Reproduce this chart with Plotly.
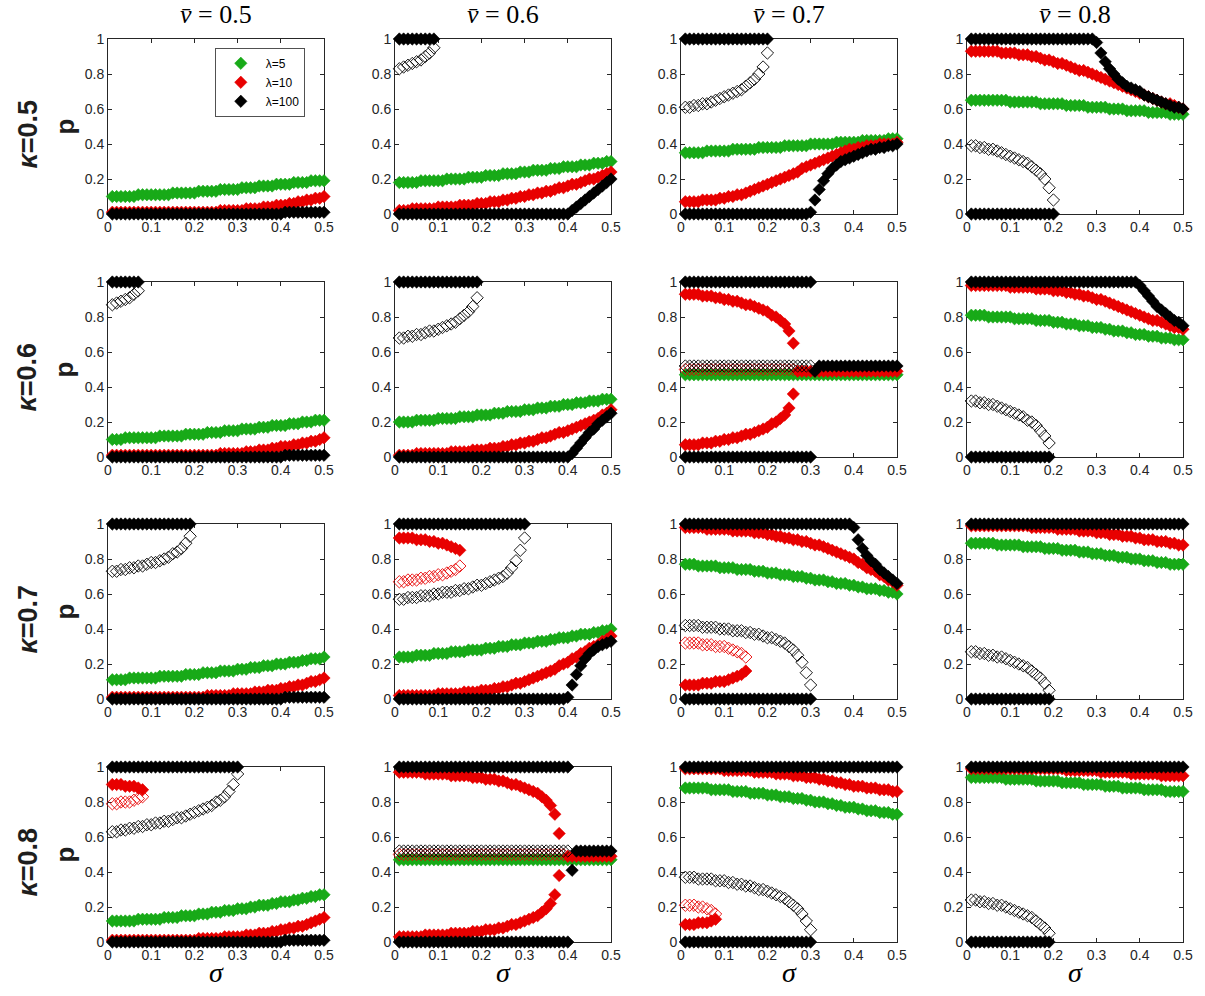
import plotly.graph_objects as go

# ---------------- data ----------------
SIGMA = [0.01, 0.02, 0.03, 0.04, 0.05, 0.06, 0.07, 0.08, 0.09, 0.10,
         0.11, 0.12, 0.13, 0.14, 0.15, 0.16, 0.17, 0.18, 0.19, 0.20,
         0.21, 0.22, 0.23, 0.24, 0.25, 0.26, 0.27, 0.28, 0.29, 0.30,
         0.31, 0.32, 0.33, 0.34, 0.35, 0.36, 0.37, 0.38, 0.39, 0.40,
         0.41, 0.42, 0.43, 0.44, 0.45, 0.46, 0.47, 0.48, 0.49, 0.50]

KAPPA_LABELS = ["0.5", "0.6", "0.7", "0.8"]
VBAR_LABELS = ["0.5", "0.6", "0.7", "0.8"]
X_TICKS = [0, 0.1, 0.2, 0.3, 0.4, 0.5]
X_TICK_TEXT = ["0", "0.1", "0.2", "0.3", "0.4", "0.5"]
Y_TICKS = [0, 0.2, 0.4, 0.6, 0.8, 1]
Y_TICK_TEXT = ["0", "0.2", "0.4", "0.6", "0.8", "1"]
LEGEND_NAMES = ["λ=5", "λ=10", "λ=100"]

# ---- kappa = 0.5 ----
k5v5_green = [0.10, 0.10, 0.10, 0.10, 0.10, 0.10, 0.11, 0.11, 0.11, 0.11, 0.11, 0.11, 0.11, 0.11, 0.12, 0.12, 0.12, 0.12, 0.12, 0.12,
              0.13, 0.13, 0.13, 0.13, 0.13, 0.14, 0.14, 0.14, 0.14, 0.14, 0.15, 0.15, 0.15, 0.15, 0.16, 0.16, 0.16, 0.16, 0.17, 0.17,
              0.17, 0.17, 0.18, 0.18, 0.18, 0.18, 0.19, 0.19, 0.19, 0.19]
k5v5_red = [0.01, 0.01, 0.01, 0.01, 0.01, 0.01, 0.01, 0.01, 0.01, 0.01, 0.01, 0.01, 0.01, 0.01, 0.01, 0.01, 0.01, 0.01, 0.01, 0.01,
            0.01, 0.01, 0.01, 0.01, 0.01, 0.02, 0.02, 0.02, 0.02, 0.02, 0.02, 0.03, 0.03, 0.03, 0.03, 0.04, 0.04, 0.04, 0.05, 0.05,
            0.05, 0.06, 0.06, 0.07, 0.07, 0.08, 0.08, 0.09, 0.09, 0.10]
k5v5_black = [0, 0, 0, 0, 0, 0, 0, 0, 0, 0, 0, 0, 0, 0, 0, 0, 0, 0, 0, 0, 0, 0, 0, 0, 0, 0, 0, 0, 0, 0, 0, 0, 0, 0, 0, 0, 0, 0, 0, 0,
              0.01, 0.01, 0.01, 0.01, 0.01, 0.01, 0.01, 0.01, 0.01, 0.01]

k5v6_black_hi = [1, 1, 1, 1, 1, 1, 1, 1, 1]
k5v6_black_open = [0.83, 0.84, 0.85, 0.86, 0.87, 0.88, 0.90, 0.92, 0.95]
k5v6_green = [0.18, 0.18, 0.18, 0.18, 0.18, 0.19, 0.19, 0.19, 0.19, 0.19, 0.19, 0.20, 0.20, 0.20, 0.20, 0.20, 0.21, 0.21, 0.21, 0.21,
              0.22, 0.22, 0.22, 0.22, 0.23, 0.23, 0.23, 0.23, 0.24, 0.24, 0.24, 0.25, 0.25, 0.25, 0.25, 0.26, 0.26, 0.26, 0.27, 0.27,
              0.27, 0.27, 0.28, 0.28, 0.28, 0.29, 0.29, 0.29, 0.30, 0.30]
k5v6_red = [0.02, 0.02, 0.02, 0.03, 0.03, 0.03, 0.03, 0.03, 0.03, 0.04, 0.04, 0.04, 0.04, 0.04, 0.05, 0.05, 0.05, 0.05, 0.06, 0.06,
            0.06, 0.07, 0.07, 0.07, 0.08, 0.08, 0.09, 0.09, 0.10, 0.10, 0.11, 0.11, 0.12, 0.12, 0.13, 0.13, 0.14, 0.15, 0.15, 0.16,
            0.17, 0.17, 0.18, 0.19, 0.20, 0.20, 0.21, 0.22, 0.23, 0.24]
k5v6_black_lo = [0, 0, 0, 0, 0, 0, 0, 0, 0, 0, 0, 0, 0, 0, 0, 0, 0, 0, 0, 0, 0, 0, 0, 0, 0, 0, 0, 0, 0, 0, 0, 0, 0, 0, 0, 0, 0, 0, 0, 0,
                 0.02, 0.04, 0.06, 0.08, 0.10, 0.12, 0.14, 0.16, 0.18, 0.20]

k5v7_black_hi = [1, 1, 1, 1, 1, 1, 1, 1, 1, 1, 1, 1, 1, 1, 1, 1, 1, 1, 1, 1]
k5v7_black_open = [0.61, 0.61, 0.62, 0.62, 0.63, 0.63, 0.64, 0.65, 0.66, 0.67, 0.68, 0.69, 0.70, 0.71, 0.73, 0.75, 0.77, 0.80, 0.84, 0.92]
k5v7_green = [0.35, 0.35, 0.35, 0.35, 0.35, 0.36, 0.36, 0.36, 0.36, 0.36, 0.36, 0.37, 0.37, 0.37, 0.37, 0.37, 0.37, 0.38, 0.38, 0.38,
              0.38, 0.38, 0.38, 0.39, 0.39, 0.39, 0.39, 0.39, 0.39, 0.40, 0.40, 0.40, 0.40, 0.40, 0.40, 0.41, 0.41, 0.41, 0.41, 0.41,
              0.41, 0.42, 0.42, 0.42, 0.42, 0.42, 0.42, 0.43, 0.43, 0.43]
k5v7_red = [0.07, 0.07, 0.07, 0.07, 0.08, 0.08, 0.08, 0.08, 0.09, 0.09, 0.10, 0.10, 0.11, 0.11, 0.12, 0.13, 0.14, 0.15, 0.16, 0.17,
            0.18, 0.19, 0.20, 0.21, 0.22, 0.23, 0.24, 0.26, 0.27, 0.28, 0.29, 0.30, 0.31, 0.32, 0.33, 0.34, 0.35, 0.36, 0.37, 0.37,
            0.38, 0.38, 0.39, 0.39, 0.39, 0.40, 0.40, 0.40, 0.40, 0.41]
k5v7_black_lo = [0, 0, 0, 0, 0, 0, 0, 0, 0, 0, 0, 0, 0, 0, 0, 0, 0, 0, 0, 0, 0, 0, 0, 0, 0, 0, 0, 0, 0, 0.01,
                 0.08, 0.14, 0.19, 0.23, 0.26, 0.28, 0.30, 0.31, 0.32, 0.33, 0.34, 0.35, 0.36, 0.37, 0.37, 0.38, 0.38, 0.39, 0.39, 0.40]

k5v8_black_hi = [1, 1, 1, 1, 1, 1, 1, 1, 1, 1, 1, 1, 1, 1, 1, 1, 1, 1, 1, 1, 1, 1, 1, 1, 1, 1, 1, 1, 1,
                 0.98, 0.92, 0.87, 0.83, 0.80, 0.77, 0.75, 0.73, 0.72, 0.71, 0.70, 0.68, 0.67, 0.66, 0.65, 0.64, 0.63, 0.62, 0.61, 0.61, 0.60]
k5v8_red = [0.93, 0.93, 0.93, 0.93, 0.93, 0.93, 0.93, 0.92, 0.92, 0.92, 0.92, 0.91, 0.91, 0.91, 0.90, 0.90, 0.89, 0.88, 0.88, 0.87,
            0.86, 0.86, 0.85, 0.84, 0.83, 0.82, 0.82, 0.81, 0.80, 0.79, 0.78, 0.77, 0.76, 0.75, 0.74, 0.73, 0.72, 0.71, 0.70, 0.69,
            0.68, 0.67, 0.66, 0.65, 0.64, 0.63, 0.63, 0.62, 0.61, 0.60]
k5v8_green = [0.65, 0.65, 0.65, 0.65, 0.65, 0.65, 0.65, 0.65, 0.65, 0.64, 0.64, 0.64, 0.64, 0.64, 0.64, 0.64, 0.63, 0.63, 0.63, 0.63,
              0.63, 0.63, 0.62, 0.62, 0.62, 0.62, 0.62, 0.61, 0.61, 0.61, 0.61, 0.61, 0.60, 0.60, 0.60, 0.60, 0.59, 0.59, 0.59, 0.59,
              0.59, 0.58, 0.58, 0.58, 0.58, 0.58, 0.57, 0.57, 0.57, 0.57]
k5v8_black_open = [0.39, 0.39, 0.38, 0.38, 0.37, 0.37, 0.36, 0.35, 0.34, 0.33, 0.32, 0.31, 0.30, 0.29, 0.27, 0.25, 0.23, 0.20, 0.15, 0.08]
k5v8_black_lo = [0, 0, 0, 0, 0, 0, 0, 0, 0, 0, 0, 0, 0, 0, 0, 0, 0, 0, 0, 0]

# ---- kappa = 0.6 ----
k6v5_black_hi = [1, 1, 1, 1, 1, 1, 1]
k6v5_black_open = [0.87, 0.88, 0.89, 0.90, 0.91, 0.93, 0.95]
k6v5_green = [0.10, 0.10, 0.10, 0.11, 0.11, 0.11, 0.11, 0.11, 0.11, 0.11, 0.11, 0.12, 0.12, 0.12, 0.12, 0.12, 0.12, 0.13, 0.13, 0.13,
              0.13, 0.13, 0.14, 0.14, 0.14, 0.14, 0.15, 0.15, 0.15, 0.15, 0.16, 0.16, 0.16, 0.16, 0.17, 0.17, 0.17, 0.18, 0.18, 0.18,
              0.18, 0.19, 0.19, 0.19, 0.20, 0.20, 0.20, 0.21, 0.21, 0.21]
k6v5_red = [0.01, 0.01, 0.01, 0.01, 0.01, 0.01, 0.01, 0.01, 0.01, 0.01, 0.01, 0.01, 0.01, 0.01, 0.01, 0.01, 0.01, 0.01, 0.01, 0.01,
            0.01, 0.01, 0.01, 0.01, 0.01, 0.02, 0.02, 0.02, 0.02, 0.02, 0.02, 0.03, 0.03, 0.03, 0.04, 0.04, 0.04, 0.05, 0.05, 0.06,
            0.06, 0.06, 0.07, 0.07, 0.08, 0.08, 0.09, 0.09, 0.10, 0.11]
k6v5_black_lo = [0, 0, 0, 0, 0, 0, 0, 0, 0, 0, 0, 0, 0, 0, 0, 0, 0, 0, 0, 0, 0, 0, 0, 0, 0, 0, 0, 0, 0, 0, 0, 0, 0, 0, 0, 0, 0, 0, 0, 0,
                 0.01, 0.01, 0.01, 0.01, 0.01, 0.01, 0.01, 0.01, 0.01, 0.01]

k6v6_black_hi = [1, 1, 1, 1, 1, 1, 1, 1, 1, 1, 1, 1, 1, 1, 1, 1, 1, 1, 1]
k6v6_black_open = [0.68, 0.68, 0.69, 0.69, 0.70, 0.70, 0.71, 0.72, 0.72, 0.73, 0.74, 0.75, 0.76, 0.77, 0.79, 0.81, 0.83, 0.86, 0.91]
k6v6_green = [0.20, 0.20, 0.20, 0.20, 0.21, 0.21, 0.21, 0.21, 0.21, 0.22, 0.22, 0.22, 0.22, 0.22, 0.23, 0.23, 0.23, 0.23, 0.24, 0.24,
              0.24, 0.24, 0.25, 0.25, 0.25, 0.26, 0.26, 0.26, 0.26, 0.27, 0.27, 0.27, 0.28, 0.28, 0.28, 0.29, 0.29, 0.29, 0.30, 0.30,
              0.30, 0.31, 0.31, 0.31, 0.32, 0.32, 0.32, 0.33, 0.33, 0.33]
k6v6_red = [0.01, 0.01, 0.01, 0.01, 0.02, 0.02, 0.02, 0.02, 0.02, 0.02, 0.02, 0.02, 0.03, 0.03, 0.03, 0.03, 0.03, 0.04, 0.04, 0.04,
            0.04, 0.05, 0.05, 0.05, 0.06, 0.06, 0.07, 0.07, 0.08, 0.08, 0.09, 0.09, 0.10, 0.11, 0.11, 0.12, 0.13, 0.14, 0.14, 0.15,
            0.16, 0.17, 0.18, 0.19, 0.20, 0.21, 0.22, 0.24, 0.25, 0.27]
k6v6_black_lo = [0, 0, 0, 0, 0, 0, 0, 0, 0, 0, 0, 0, 0, 0, 0, 0, 0, 0, 0, 0, 0, 0, 0, 0, 0, 0, 0, 0, 0, 0, 0, 0, 0, 0, 0, 0, 0, 0, 0, 0,
                 0.02, 0.05, 0.08, 0.11, 0.14, 0.16, 0.19, 0.21, 0.23, 0.25]

k6v7_black_hi = [1, 1, 1, 1, 1, 1, 1, 1, 1, 1, 1, 1, 1, 1, 1, 1, 1, 1, 1, 1, 1, 1, 1, 1, 1, 1, 1, 1, 1, 1]
k6v7_red_hi = [0.93, 0.93, 0.93, 0.93, 0.92, 0.92, 0.92, 0.91, 0.91, 0.90, 0.90, 0.89, 0.89, 0.88, 0.87, 0.87, 0.86, 0.85, 0.84, 0.83,
               0.81, 0.80, 0.78, 0.76, 0.72, 0.65]
k6v7_red_lo = [0.07, 0.07, 0.07, 0.07, 0.08, 0.08, 0.08, 0.09, 0.09, 0.10, 0.10, 0.11, 0.11, 0.12, 0.13, 0.13, 0.14, 0.15, 0.16, 0.17,
               0.19, 0.20, 0.22, 0.24, 0.28, 0.36]
k6v7_black_open = [0.52, 0.52, 0.52, 0.52, 0.52, 0.52, 0.52, 0.52, 0.52, 0.52, 0.52, 0.52, 0.52, 0.52, 0.52, 0.52, 0.52, 0.52, 0.52, 0.52,
                   0.52, 0.52, 0.52, 0.52, 0.52, 0.52, 0.52, 0.52, 0.52, 0.52]
k6v7_red_open = [0.50, 0.50, 0.50, 0.50, 0.50, 0.50, 0.50, 0.50, 0.50, 0.50, 0.50, 0.50, 0.50, 0.50, 0.50, 0.50, 0.50, 0.50, 0.50, 0.50,
                 0.50, 0.50, 0.50, 0.50, 0.50, 0.50]
k6v7_red_mid = [0.49, 0.49, 0.49, 0.49, 0.49, 0.49, 0.49, 0.49, 0.49, 0.49, 0.49, 0.49, 0.49, 0.49, 0.49, 0.49, 0.49, 0.49, 0.49, 0.49,
                0.49, 0.49, 0.49, 0.49]
k6v7_green = [0.47, 0.47, 0.47, 0.47, 0.47, 0.47, 0.47, 0.47, 0.47, 0.47, 0.47, 0.47, 0.47, 0.47, 0.47, 0.47, 0.47, 0.47, 0.47, 0.47,
              0.47, 0.47, 0.47, 0.47, 0.47, 0.47, 0.47, 0.47, 0.47, 0.47, 0.47, 0.47, 0.47, 0.47, 0.47, 0.47, 0.47, 0.47, 0.47, 0.47,
              0.47, 0.47, 0.47, 0.47, 0.47, 0.47, 0.47, 0.47, 0.47, 0.47]
k6v7_black_lo = [0, 0, 0, 0, 0, 0, 0, 0, 0, 0, 0, 0, 0, 0, 0, 0, 0, 0, 0, 0, 0, 0, 0, 0, 0, 0, 0, 0, 0, 0]
k6v7_black_mid = [0.49, 0.52, 0.52, 0.52, 0.52, 0.52, 0.52, 0.52, 0.52, 0.52, 0.52, 0.52, 0.52, 0.52, 0.52, 0.52, 0.52, 0.52, 0.52, 0.52]

k6v8_black_hi = [1, 1, 1, 1, 1, 1, 1, 1, 1, 1, 1, 1, 1, 1, 1, 1, 1, 1, 1, 1, 1, 1, 1, 1, 1, 1, 1, 1, 1, 1, 1, 1, 1, 1, 1, 1, 1, 1, 1,
                 0.98, 0.95, 0.92, 0.89, 0.86, 0.84, 0.82, 0.80, 0.78, 0.77, 0.75]
k6v8_red = [0.98, 0.98, 0.98, 0.98, 0.98, 0.98, 0.98, 0.98, 0.98, 0.97, 0.97, 0.97, 0.97, 0.97, 0.97, 0.96, 0.96, 0.96, 0.96, 0.95,
            0.95, 0.95, 0.94, 0.94, 0.93, 0.93, 0.92, 0.92, 0.91, 0.90, 0.90, 0.89, 0.88, 0.87, 0.86, 0.85, 0.84, 0.83, 0.82, 0.81,
            0.80, 0.79, 0.78, 0.78, 0.77, 0.76, 0.75, 0.74, 0.74, 0.73]
k6v8_green = [0.81, 0.81, 0.81, 0.81, 0.80, 0.80, 0.80, 0.80, 0.80, 0.80, 0.79, 0.79, 0.79, 0.79, 0.79, 0.78, 0.78, 0.78, 0.78, 0.77,
              0.77, 0.77, 0.76, 0.76, 0.76, 0.75, 0.75, 0.75, 0.74, 0.74, 0.74, 0.73, 0.73, 0.72, 0.72, 0.72, 0.71, 0.71, 0.70, 0.70,
              0.70, 0.69, 0.69, 0.69, 0.68, 0.68, 0.68, 0.67, 0.67, 0.67]
k6v8_black_open = [0.32, 0.32, 0.31, 0.31, 0.30, 0.30, 0.29, 0.28, 0.27, 0.26, 0.25, 0.24, 0.23, 0.21, 0.20, 0.18, 0.15, 0.12, 0.08]
k6v8_black_lo = [0, 0, 0, 0, 0, 0, 0, 0, 0, 0, 0, 0, 0, 0, 0, 0, 0, 0, 0]

# ---- kappa = 0.7 ----
k7v5_black_hi = [1, 1, 1, 1, 1, 1, 1, 1, 1, 1, 1, 1, 1, 1, 1, 1, 1, 1, 1]
k7v5_black_open = [0.73, 0.73, 0.74, 0.74, 0.75, 0.75, 0.76, 0.76, 0.77, 0.78, 0.78, 0.79, 0.80, 0.81, 0.83, 0.84, 0.86, 0.89, 0.93]
k7v5_green = [0.11, 0.11, 0.11, 0.11, 0.12, 0.12, 0.12, 0.12, 0.12, 0.12, 0.12, 0.13, 0.13, 0.13, 0.13, 0.13, 0.13, 0.14, 0.14, 0.14,
              0.14, 0.15, 0.15, 0.15, 0.15, 0.16, 0.16, 0.16, 0.16, 0.17, 0.17, 0.17, 0.18, 0.18, 0.18, 0.19, 0.19, 0.19, 0.20, 0.20,
              0.20, 0.21, 0.21, 0.21, 0.22, 0.22, 0.23, 0.23, 0.23, 0.24]
k7v5_red = [0.01, 0.01, 0.01, 0.01, 0.01, 0.01, 0.01, 0.01, 0.01, 0.01, 0.01, 0.01, 0.01, 0.01, 0.01, 0.01, 0.01, 0.01, 0.01, 0.01,
            0.01, 0.01, 0.02, 0.02, 0.02, 0.02, 0.02, 0.02, 0.03, 0.03, 0.03, 0.03, 0.03, 0.04, 0.04, 0.04, 0.05, 0.05, 0.05, 0.06,
            0.06, 0.07, 0.07, 0.08, 0.08, 0.09, 0.10, 0.10, 0.11, 0.12]
k7v5_black_lo = [0, 0, 0, 0, 0, 0, 0, 0, 0, 0, 0, 0, 0, 0, 0, 0, 0, 0, 0, 0, 0, 0, 0, 0, 0, 0, 0, 0, 0, 0, 0, 0, 0, 0, 0, 0, 0, 0, 0, 0,
                 0.01, 0.01, 0.01, 0.01, 0.01, 0.01, 0.01, 0.01, 0.01, 0.01]

k7v6_black_hi = [1, 1, 1, 1, 1, 1, 1, 1, 1, 1, 1, 1, 1, 1, 1, 1, 1, 1, 1, 1, 1, 1, 1, 1, 1, 1, 1, 1, 1, 1]
k7v6_red_hi = [0.92, 0.92, 0.92, 0.92, 0.91, 0.91, 0.91, 0.90, 0.90, 0.89, 0.89, 0.88, 0.87, 0.86, 0.85]
k7v6_red_open = [0.67, 0.67, 0.68, 0.68, 0.68, 0.69, 0.69, 0.70, 0.70, 0.71, 0.71, 0.72, 0.73, 0.74, 0.76]
k7v6_black_open = [0.57, 0.57, 0.58, 0.58, 0.58, 0.59, 0.59, 0.59, 0.60, 0.60, 0.61, 0.61, 0.61, 0.62, 0.62, 0.63, 0.63, 0.64, 0.65, 0.65,
                   0.66, 0.67, 0.68, 0.69, 0.70, 0.72, 0.75, 0.79, 0.85, 0.92]
k7v6_green = [0.24, 0.24, 0.24, 0.24, 0.25, 0.25, 0.25, 0.25, 0.26, 0.26, 0.26, 0.26, 0.27, 0.27, 0.27, 0.27, 0.28, 0.28, 0.28, 0.28,
              0.29, 0.29, 0.29, 0.30, 0.30, 0.30, 0.31, 0.31, 0.31, 0.32, 0.32, 0.32, 0.33, 0.33, 0.33, 0.34, 0.34, 0.35, 0.35, 0.35,
              0.36, 0.36, 0.37, 0.37, 0.37, 0.38, 0.38, 0.39, 0.39, 0.40]
k7v6_red = [0.02, 0.02, 0.02, 0.02, 0.02, 0.02, 0.02, 0.02, 0.02, 0.03, 0.03, 0.03, 0.03, 0.03, 0.03, 0.04, 0.04, 0.04, 0.04, 0.05,
            0.05, 0.05, 0.06, 0.06, 0.07, 0.07, 0.08, 0.09, 0.09, 0.10, 0.11, 0.12, 0.13, 0.14, 0.15, 0.16, 0.17, 0.19, 0.20, 0.21,
            0.23, 0.24, 0.26, 0.27, 0.29, 0.30, 0.31, 0.33, 0.34, 0.36]
k7v6_black_lo = [0, 0, 0, 0, 0, 0, 0, 0, 0, 0, 0, 0, 0, 0, 0, 0, 0, 0, 0, 0, 0, 0, 0, 0, 0, 0, 0, 0, 0, 0, 0, 0, 0, 0, 0, 0, 0, 0, 0, 0.01,
                 0.08, 0.14, 0.19, 0.23, 0.26, 0.28, 0.30, 0.31, 0.32, 0.33]

k7v7_black_hi = [1, 1, 1, 1, 1, 1, 1, 1, 1, 1, 1, 1, 1, 1, 1, 1, 1, 1, 1, 1, 1, 1, 1, 1, 1, 1, 1, 1, 1, 1, 1, 1, 1, 1, 1, 1, 1, 1, 1,
                 0.98, 0.91, 0.86, 0.82, 0.79, 0.77, 0.74, 0.72, 0.70, 0.68, 0.66]
k7v7_red = [0.98, 0.98, 0.98, 0.98, 0.98, 0.97, 0.97, 0.97, 0.97, 0.97, 0.97, 0.96, 0.96, 0.96, 0.96, 0.96, 0.95, 0.95, 0.95, 0.94,
            0.94, 0.93, 0.93, 0.92, 0.92, 0.91, 0.91, 0.90, 0.90, 0.89, 0.88, 0.88, 0.87, 0.86, 0.85, 0.84, 0.83, 0.82, 0.81, 0.80,
            0.78, 0.77, 0.75, 0.74, 0.73, 0.71, 0.70, 0.68, 0.67, 0.65]
k7v7_green = [0.77, 0.77, 0.77, 0.76, 0.76, 0.76, 0.76, 0.76, 0.75, 0.75, 0.75, 0.75, 0.74, 0.74, 0.74, 0.74, 0.73, 0.73, 0.73, 0.72,
              0.72, 0.72, 0.71, 0.71, 0.71, 0.70, 0.70, 0.70, 0.69, 0.69, 0.68, 0.68, 0.68, 0.67, 0.67, 0.66, 0.66, 0.66, 0.65, 0.65,
              0.64, 0.64, 0.63, 0.63, 0.63, 0.62, 0.62, 0.61, 0.61, 0.60]
k7v7_black_open = [0.42, 0.42, 0.42, 0.42, 0.41, 0.41, 0.41, 0.41, 0.40, 0.40, 0.40, 0.39, 0.39, 0.39, 0.38, 0.38, 0.37, 0.37, 0.36, 0.35,
                   0.35, 0.34, 0.33, 0.32, 0.30, 0.28, 0.25, 0.21, 0.15, 0.08]
k7v7_red_open = [0.32, 0.32, 0.32, 0.32, 0.31, 0.31, 0.31, 0.30, 0.30, 0.30, 0.29, 0.28, 0.27, 0.26, 0.24]
k7v7_red_lo = [0.08, 0.08, 0.08, 0.08, 0.09, 0.09, 0.09, 0.10, 0.10, 0.10, 0.11, 0.12, 0.13, 0.14, 0.16]
k7v7_black_lo = [0, 0, 0, 0, 0, 0, 0, 0, 0, 0, 0, 0, 0, 0, 0, 0, 0, 0, 0, 0, 0, 0, 0, 0, 0, 0, 0, 0, 0, 0]

k7v8_black_hi = [1, 1, 1, 1, 1, 1, 1, 1, 1, 1, 1, 1, 1, 1, 1, 1, 1, 1, 1, 1, 1, 1, 1, 1, 1, 1, 1, 1, 1, 1, 1, 1, 1, 1, 1, 1, 1, 1, 1, 1,
                 1, 1, 1, 1, 1, 1, 1, 1, 1, 1]
k7v8_red = [0.99, 0.99, 0.99, 0.99, 0.99, 0.99, 0.99, 0.99, 0.99, 0.99, 0.99, 0.99, 0.99, 0.99, 0.98, 0.98, 0.98, 0.98, 0.98, 0.98,
            0.97, 0.97, 0.97, 0.97, 0.97, 0.96, 0.96, 0.96, 0.96, 0.95, 0.95, 0.95, 0.94, 0.94, 0.94, 0.93, 0.93, 0.93, 0.92, 0.92,
            0.91, 0.91, 0.91, 0.90, 0.90, 0.90, 0.89, 0.89, 0.88, 0.88]
k7v8_green = [0.89, 0.89, 0.89, 0.89, 0.89, 0.89, 0.88, 0.88, 0.88, 0.88, 0.88, 0.88, 0.87, 0.87, 0.87, 0.87, 0.87, 0.86, 0.86, 0.86,
              0.86, 0.85, 0.85, 0.85, 0.85, 0.84, 0.84, 0.84, 0.83, 0.83, 0.83, 0.82, 0.82, 0.82, 0.81, 0.81, 0.81, 0.80, 0.80, 0.80,
              0.79, 0.79, 0.79, 0.78, 0.78, 0.78, 0.77, 0.77, 0.77, 0.77]
k7v8_black_open = [0.27, 0.27, 0.26, 0.26, 0.25, 0.25, 0.24, 0.24, 0.23, 0.22, 0.21, 0.20, 0.19, 0.18, 0.16, 0.14, 0.12, 0.09, 0.05]
k7v8_black_lo = [0, 0, 0, 0, 0, 0, 0, 0, 0, 0, 0, 0, 0, 0, 0, 0, 0, 0, 0]

# ---- kappa = 0.8 ----
k8v5_black_hi = [1, 1, 1, 1, 1, 1, 1, 1, 1, 1, 1, 1, 1, 1, 1, 1, 1, 1, 1, 1, 1, 1, 1, 1, 1, 1, 1, 1, 1, 1]
k8v5_red_hi = [0.90, 0.90, 0.90, 0.89, 0.89, 0.89, 0.88, 0.87]
k8v5_red_open = [0.79, 0.79, 0.80, 0.80, 0.80, 0.81, 0.82, 0.83]
k8v5_black_open = [0.63, 0.63, 0.64, 0.64, 0.65, 0.65, 0.66, 0.66, 0.67, 0.67, 0.68, 0.68, 0.69, 0.69, 0.70, 0.71, 0.71, 0.72, 0.73, 0.74,
                   0.75, 0.76, 0.77, 0.78, 0.80, 0.81, 0.83, 0.86, 0.90, 0.96]
k8v5_green = [0.12, 0.12, 0.12, 0.12, 0.12, 0.12, 0.13, 0.13, 0.13, 0.13, 0.13, 0.13, 0.14, 0.14, 0.14, 0.14, 0.15, 0.15, 0.15, 0.15,
              0.16, 0.16, 0.16, 0.17, 0.17, 0.17, 0.18, 0.18, 0.18, 0.19, 0.19, 0.19, 0.20, 0.20, 0.21, 0.21, 0.21, 0.22, 0.22, 0.23,
              0.23, 0.23, 0.24, 0.24, 0.25, 0.25, 0.26, 0.26, 0.27, 0.27]
k8v5_red = [0.01, 0.01, 0.01, 0.01, 0.01, 0.01, 0.01, 0.01, 0.01, 0.01, 0.01, 0.01, 0.01, 0.01, 0.01, 0.01, 0.01, 0.01, 0.01, 0.01,
            0.02, 0.02, 0.02, 0.02, 0.02, 0.02, 0.03, 0.03, 0.03, 0.03, 0.03, 0.04, 0.04, 0.04, 0.05, 0.05, 0.05, 0.06, 0.06, 0.07,
            0.07, 0.08, 0.08, 0.09, 0.09, 0.10, 0.11, 0.12, 0.13, 0.14]
k8v5_black_lo = [0, 0, 0, 0, 0, 0, 0, 0, 0, 0, 0, 0, 0, 0, 0, 0, 0, 0, 0, 0, 0, 0, 0, 0, 0, 0, 0, 0, 0, 0, 0, 0, 0, 0, 0, 0, 0, 0, 0, 0,
                 0.01, 0.01, 0.01, 0.01, 0.01, 0.01, 0.01, 0.01, 0.01, 0.01]

k8v6_black_hi = [1, 1, 1, 1, 1, 1, 1, 1, 1, 1, 1, 1, 1, 1, 1, 1, 1, 1, 1, 1, 1, 1, 1, 1, 1, 1, 1, 1, 1, 1, 1, 1, 1, 1, 1, 1, 1, 1, 1, 1]
k8v6_red_hi = [0.97, 0.97, 0.97, 0.97, 0.97, 0.97, 0.96, 0.96, 0.96, 0.96, 0.96, 0.96, 0.95, 0.95, 0.95, 0.95, 0.95, 0.94, 0.94, 0.94,
               0.93, 0.93, 0.93, 0.92, 0.92, 0.91, 0.90, 0.90, 0.89, 0.88, 0.87, 0.86, 0.85, 0.83, 0.81, 0.78, 0.73, 0.62]
k8v6_red_lo = [0.03, 0.03, 0.03, 0.03, 0.03, 0.03, 0.04, 0.04, 0.04, 0.04, 0.04, 0.04, 0.05, 0.05, 0.05, 0.05, 0.05, 0.06, 0.06, 0.06,
               0.07, 0.07, 0.07, 0.08, 0.08, 0.09, 0.10, 0.10, 0.11, 0.12, 0.13, 0.14, 0.15, 0.17, 0.19, 0.22, 0.27, 0.38]
k8v6_black_open = [0.52, 0.52, 0.52, 0.52, 0.52, 0.52, 0.52, 0.52, 0.52, 0.52, 0.52, 0.52, 0.52, 0.52, 0.52, 0.52, 0.52, 0.52, 0.52, 0.52,
                   0.52, 0.52, 0.52, 0.52, 0.52, 0.52, 0.52, 0.52, 0.52, 0.52, 0.52, 0.52, 0.52, 0.52, 0.52, 0.52, 0.52, 0.52, 0.52, 0.52]
k8v6_red_open = [0.50, 0.50, 0.50, 0.50, 0.50, 0.50, 0.50, 0.50, 0.50, 0.50, 0.50, 0.50, 0.50, 0.50, 0.50, 0.50, 0.50, 0.50, 0.50, 0.50,
                 0.50, 0.50, 0.50, 0.50, 0.50, 0.50, 0.50, 0.50, 0.50, 0.50, 0.50, 0.50, 0.50, 0.50, 0.50, 0.50, 0.50, 0.50, 0.50]
k8v6_red_mid = [0.49, 0.49, 0.49, 0.49, 0.49, 0.49, 0.49, 0.49, 0.49, 0.49, 0.49]
k8v6_green = [0.47, 0.47, 0.47, 0.47, 0.47, 0.47, 0.47, 0.47, 0.47, 0.47, 0.47, 0.47, 0.47, 0.47, 0.47, 0.47, 0.47, 0.47, 0.47, 0.47,
              0.47, 0.47, 0.47, 0.47, 0.47, 0.47, 0.47, 0.47, 0.47, 0.47, 0.47, 0.47, 0.47, 0.47, 0.47, 0.47, 0.47, 0.47, 0.47, 0.47,
              0.47, 0.47, 0.47, 0.47, 0.47, 0.47, 0.47, 0.47, 0.47, 0.47]
k8v6_black_lo = [0, 0, 0, 0, 0, 0, 0, 0, 0, 0, 0, 0, 0, 0, 0, 0, 0, 0, 0, 0, 0, 0, 0, 0, 0, 0, 0, 0, 0, 0, 0, 0, 0, 0, 0, 0, 0, 0, 0, 0]
k8v6_black_mid = [0.41, 0.52, 0.52, 0.52, 0.52, 0.52, 0.52, 0.52, 0.52, 0.52]

k8v7_black_hi = [1, 1, 1, 1, 1, 1, 1, 1, 1, 1, 1, 1, 1, 1, 1, 1, 1, 1, 1, 1, 1, 1, 1, 1, 1, 1, 1, 1, 1, 1, 1, 1, 1, 1, 1, 1, 1, 1, 1, 1,
                 1, 1, 1, 1, 1, 1, 1, 1, 1, 1]
k8v7_red = [0.99, 0.99, 0.99, 0.99, 0.99, 0.99, 0.99, 0.99, 0.99, 0.98, 0.98, 0.98, 0.98, 0.98, 0.98, 0.98, 0.97, 0.97, 0.97, 0.97,
            0.97, 0.96, 0.96, 0.96, 0.96, 0.95, 0.95, 0.95, 0.94, 0.94, 0.94, 0.93, 0.93, 0.92, 0.92, 0.91, 0.91, 0.90, 0.90, 0.89,
            0.89, 0.89, 0.88, 0.88, 0.88, 0.87, 0.87, 0.87, 0.86, 0.86]
k8v7_green = [0.88, 0.88, 0.88, 0.88, 0.88, 0.88, 0.87, 0.87, 0.87, 0.87, 0.87, 0.86, 0.86, 0.86, 0.86, 0.85, 0.85, 0.85, 0.85, 0.84,
              0.84, 0.84, 0.83, 0.83, 0.83, 0.82, 0.82, 0.82, 0.81, 0.81, 0.80, 0.80, 0.80, 0.79, 0.79, 0.78, 0.78, 0.77, 0.77, 0.77,
              0.76, 0.76, 0.75, 0.75, 0.75, 0.74, 0.74, 0.74, 0.73, 0.73]
k8v7_black_open = [0.37, 0.37, 0.37, 0.36, 0.36, 0.36, 0.36, 0.35, 0.35, 0.35, 0.34, 0.34, 0.33, 0.33, 0.32, 0.32, 0.31, 0.30, 0.30, 0.29,
                   0.28, 0.27, 0.26, 0.25, 0.23, 0.21, 0.19, 0.16, 0.12, 0.07]
k8v7_red_open = [0.21, 0.21, 0.21, 0.20, 0.20, 0.19, 0.18, 0.16]
k8v7_red_lo = [0.10, 0.10, 0.10, 0.11, 0.11, 0.11, 0.12, 0.13]
k8v7_black_lo = [0, 0, 0, 0, 0, 0, 0, 0, 0, 0, 0, 0, 0, 0, 0, 0, 0, 0, 0, 0, 0, 0, 0, 0, 0, 0, 0, 0, 0, 0]

k8v8_black_hi = [1, 1, 1, 1, 1, 1, 1, 1, 1, 1, 1, 1, 1, 1, 1, 1, 1, 1, 1, 1, 1, 1, 1, 1, 1, 1, 1, 1, 1, 1, 1, 1, 1, 1, 1, 1, 1, 1, 1, 1,
                 1, 1, 1, 1, 1, 1, 1, 1, 1, 1]
k8v8_red = [0.99, 0.99, 0.99, 0.99, 0.99, 0.99, 0.99, 0.99, 0.99, 0.99, 0.99, 0.99, 0.99, 0.99, 0.99, 0.99, 0.99, 0.99, 0.99, 0.99,
            0.99, 0.99, 0.98, 0.98, 0.98, 0.98, 0.98, 0.98, 0.98, 0.98, 0.97, 0.97, 0.97, 0.97, 0.97, 0.97, 0.97, 0.96, 0.96, 0.96,
            0.96, 0.96, 0.96, 0.96, 0.95, 0.95, 0.95, 0.95, 0.95, 0.95]
k8v8_green = [0.94, 0.94, 0.94, 0.94, 0.94, 0.94, 0.94, 0.94, 0.93, 0.93, 0.93, 0.93, 0.93, 0.93, 0.93, 0.92, 0.92, 0.92, 0.92, 0.92,
              0.92, 0.91, 0.91, 0.91, 0.91, 0.91, 0.90, 0.90, 0.90, 0.90, 0.90, 0.89, 0.89, 0.89, 0.89, 0.88, 0.88, 0.88, 0.88, 0.88,
              0.87, 0.87, 0.87, 0.87, 0.87, 0.86, 0.86, 0.86, 0.86, 0.86]
k8v8_black_open = [0.24, 0.24, 0.23, 0.23, 0.22, 0.22, 0.21, 0.21, 0.20, 0.19, 0.18, 0.17, 0.16, 0.15, 0.14, 0.12, 0.10, 0.08, 0.05]
k8v8_black_lo = [0, 0, 0, 0, 0, 0, 0, 0, 0, 0, 0, 0, 0, 0, 0, 0, 0, 0, 0]

# (values, first sigma index, colour key, filled?) per panel, drawn in this order
PANELS = {
    (0, 0): [(k5v5_green, 0, "g", True), (k5v5_red, 0, "r", True), (k5v5_black, 0, "k", True)],
    (0, 1): [(k5v6_green, 0, "g", True), (k5v6_red, 0, "r", True), (k5v6_black_hi, 0, "k", True),
             (k5v6_black_lo, 0, "k", True), (k5v6_black_open, 0, "k", False)],
    (0, 2): [(k5v7_green, 0, "g", True), (k5v7_red, 0, "r", True), (k5v7_black_hi, 0, "k", True),
             (k5v7_black_lo, 0, "k", True), (k5v7_black_open, 0, "k", False)],
    (0, 3): [(k5v8_green, 0, "g", True), (k5v8_red, 0, "r", True), (k5v8_black_hi, 0, "k", True),
             (k5v8_black_lo, 0, "k", True), (k5v8_black_open, 0, "k", False)],
    (1, 0): [(k6v5_green, 0, "g", True), (k6v5_red, 0, "r", True), (k6v5_black_hi, 0, "k", True),
             (k6v5_black_lo, 0, "k", True), (k6v5_black_open, 0, "k", False)],
    (1, 1): [(k6v6_green, 0, "g", True), (k6v6_red, 0, "r", True), (k6v6_black_hi, 0, "k", True),
             (k6v6_black_lo, 0, "k", True), (k6v6_black_open, 0, "k", False)],
    (1, 2): [(k6v7_green, 0, "g", True), (k6v7_red_hi, 0, "r", True), (k6v7_red_lo, 0, "r", True),
             (k6v7_red_open, 0, "r", False), (k6v7_red_mid, 26, "r", True), (k6v7_black_hi, 0, "k", True),
             (k6v7_black_lo, 0, "k", True), (k6v7_black_mid, 30, "k", True), (k6v7_black_open, 0, "k", False)],
    (1, 3): [(k6v8_green, 0, "g", True), (k6v8_red, 0, "r", True), (k6v8_black_hi, 0, "k", True),
             (k6v8_black_lo, 0, "k", True), (k6v8_black_open, 0, "k", False)],
    (2, 0): [(k7v5_green, 0, "g", True), (k7v5_red, 0, "r", True), (k7v5_black_hi, 0, "k", True),
             (k7v5_black_lo, 0, "k", True), (k7v5_black_open, 0, "k", False)],
    (2, 1): [(k7v6_green, 0, "g", True), (k7v6_red, 0, "r", True), (k7v6_red_hi, 0, "r", True),
             (k7v6_red_open, 0, "r", False), (k7v6_black_hi, 0, "k", True),
             (k7v6_black_lo, 0, "k", True), (k7v6_black_open, 0, "k", False)],
    (2, 2): [(k7v7_green, 0, "g", True), (k7v7_red, 0, "r", True), (k7v7_red_lo, 0, "r", True),
             (k7v7_red_open, 0, "r", False), (k7v7_black_hi, 0, "k", True),
             (k7v7_black_lo, 0, "k", True), (k7v7_black_open, 0, "k", False)],
    (2, 3): [(k7v8_green, 0, "g", True), (k7v8_red, 0, "r", True), (k7v8_black_hi, 0, "k", True),
             (k7v8_black_lo, 0, "k", True), (k7v8_black_open, 0, "k", False)],
    (3, 0): [(k8v5_green, 0, "g", True), (k8v5_red, 0, "r", True), (k8v5_red_hi, 0, "r", True),
             (k8v5_red_open, 0, "r", False), (k8v5_black_hi, 0, "k", True),
             (k8v5_black_lo, 0, "k", True), (k8v5_black_open, 0, "k", False)],
    (3, 1): [(k8v6_green, 0, "g", True), (k8v6_red_hi, 0, "r", True), (k8v6_red_lo, 0, "r", True),
             (k8v6_red_open, 0, "r", False), (k8v6_red_mid, 39, "r", True), (k8v6_black_hi, 0, "k", True),
             (k8v6_black_lo, 0, "k", True), (k8v6_black_mid, 40, "k", True), (k8v6_black_open, 0, "k", False)],
    (3, 2): [(k8v7_green, 0, "g", True), (k8v7_red, 0, "r", True), (k8v7_red_lo, 0, "r", True),
             (k8v7_red_open, 0, "r", False), (k8v7_black_hi, 0, "k", True),
             (k8v7_black_lo, 0, "k", True), (k8v7_black_open, 0, "k", False)],
    (3, 3): [(k8v8_green, 0, "g", True), (k8v8_red, 0, "r", True), (k8v8_black_hi, 0, "k", True),
             (k8v8_black_lo, 0, "k", True), (k8v8_black_open, 0, "k", False)],
}

# ---------------- styling ----------------
W, H = 1205, 996
COLORS = {"g": "rgb(24,170,24)", "r": "rgb(232,0,0)", "k": "rgb(0,0,0)"}
LEGEND_KEYS = ["g", "r", "k"]
AX_COLOR = "rgb(38,38,38)"
COL_LEFT = [108, 395, 681, 967]
COL_W = 216
ROW_TOP = [39, 282, 524, 767]
ROW_H = 175
MSIZE = 9.5

fig = go.Figure()
legend_done = set()

for (r, c), curves in PANELS.items():
    n = r * 4 + c + 1
    xa = "x" if n == 1 else f"x{n}"
    ya = "y" if n == 1 else f"y{n}"
    for vals, start, key, filled in curves:
        xs = SIGMA[start:start + len(vals)]
        show = False
        name = None
        if (r, c) == (0, 0) and filled and key not in legend_done:
            show = True
            legend_done.add(key)
            name = LEGEND_NAMES[LEGEND_KEYS.index(key)]
        if filled:
            marker = dict(symbol="diamond", size=MSIZE, color=COLORS[key],
                          line=dict(width=0.6, color=COLORS[key]))
        else:
            marker = dict(symbol="diamond-open", size=MSIZE, color=COLORS[key],
                          line=dict(width=0.9, color=COLORS[key]))
        fig.add_trace(go.Scatter(x=xs, y=vals, mode="markers", marker=marker,
                                 xaxis=xa, yaxis=ya, cliponaxis=False,
                                 showlegend=show, name=name))

tickfont = dict(family="Liberation Sans, Arial, sans-serif", size=14, color=AX_COLOR)
layout = {}
for r in range(4):
    for c in range(4):
        n = r * 4 + c + 1
        xk = "xaxis" if n == 1 else f"xaxis{n}"
        yk = "yaxis" if n == 1 else f"yaxis{n}"
        x0 = COL_LEFT[c] / W
        x1 = (COL_LEFT[c] + COL_W) / W
        y1 = 1 - ROW_TOP[r] / H
        y0 = 1 - (ROW_TOP[r] + ROW_H) / H
        common = dict(showline=True, linecolor=AX_COLOR, linewidth=0.8, mirror="ticks",
                      ticks="inside", ticklen=4, tickwidth=0.8, tickcolor=AX_COLOR,
                      showgrid=False, zeroline=False, tickfont=tickfont, layer="below traces",
                      automargin=False)
        layout[xk] = dict(domain=[x0, x1], range=[0, 0.5], tickvals=X_TICKS, ticktext=X_TICK_TEXT,
                          anchor="y" if n == 1 else f"y{n}", **common)
        layout[yk] = dict(domain=[y0, y1], range=[0, 1], tickvals=Y_TICKS, ticktext=Y_TICK_TEXT,
                          anchor="x" if n == 1 else f"x{n}", **common)

annotations = []
serif = "Liberation Serif, DejaVu Serif, serif"
sans = "Liberation Sans, Arial, sans-serif"
for c in range(4):
    xc = (COL_LEFT[c] + COL_W / 2) / W
    annotations.append(dict(x=xc, y=1 - 15 / H, xref="paper", yref="paper", showarrow=False,
                            text="<i>v\u0304</i> = " + VBAR_LABELS[c],
                            font=dict(family=serif, size=26, color="black"),
                            xanchor="center", yanchor="middle"))
    annotations.append(dict(x=xc, y=1 - 972 / H, xref="paper", yref="paper", showarrow=False,
                            text="<i>σ</i>", font=dict(family=serif, size=28, color="black"),
                            xanchor="center", yanchor="middle"))
for r in range(4):
    yc = 1 - (ROW_TOP[r] + ROW_H / 2) / H
    annotations.append(dict(x=27 / W, y=yc - 8 / H, xref="paper", yref="paper", showarrow=False,
                            text="<b><i>κ</i>=" + KAPPA_LABELS[r] + "</b>", textangle=-90,
                            font=dict(family=sans, size=27, color="rgb(30,30,30)"),
                            xanchor="center", yanchor="middle"))
    annotations.append(dict(x=64 / W, y=yc, xref="paper", yref="paper", showarrow=False,
                            text="<b>p</b>", textangle=-90,
                            font=dict(family=sans, size=26, color="rgb(30,30,30)"),
                            xanchor="center", yanchor="middle"))

fig.update_layout(
    template="none",
    width=W, height=H,
    margin=dict(l=0, r=0, t=0, b=0, autoexpand=False),
    paper_bgcolor="white", plot_bgcolor="white",
    annotations=annotations,
    legend=dict(x=215 / W, y=1 - 48 / H, xanchor="left", yanchor="top",
                bgcolor="white", bordercolor=AX_COLOR, borderwidth=0.8,
                font=dict(family=sans, size=12, color="black"),
                tracegroupgap=0, itemwidth=40),
    **layout,
)

fig.write_html("out.html", config={"displayModeBar": False},
               post_script="document.body.style.margin='0';document.body.style.overflow='hidden';")
